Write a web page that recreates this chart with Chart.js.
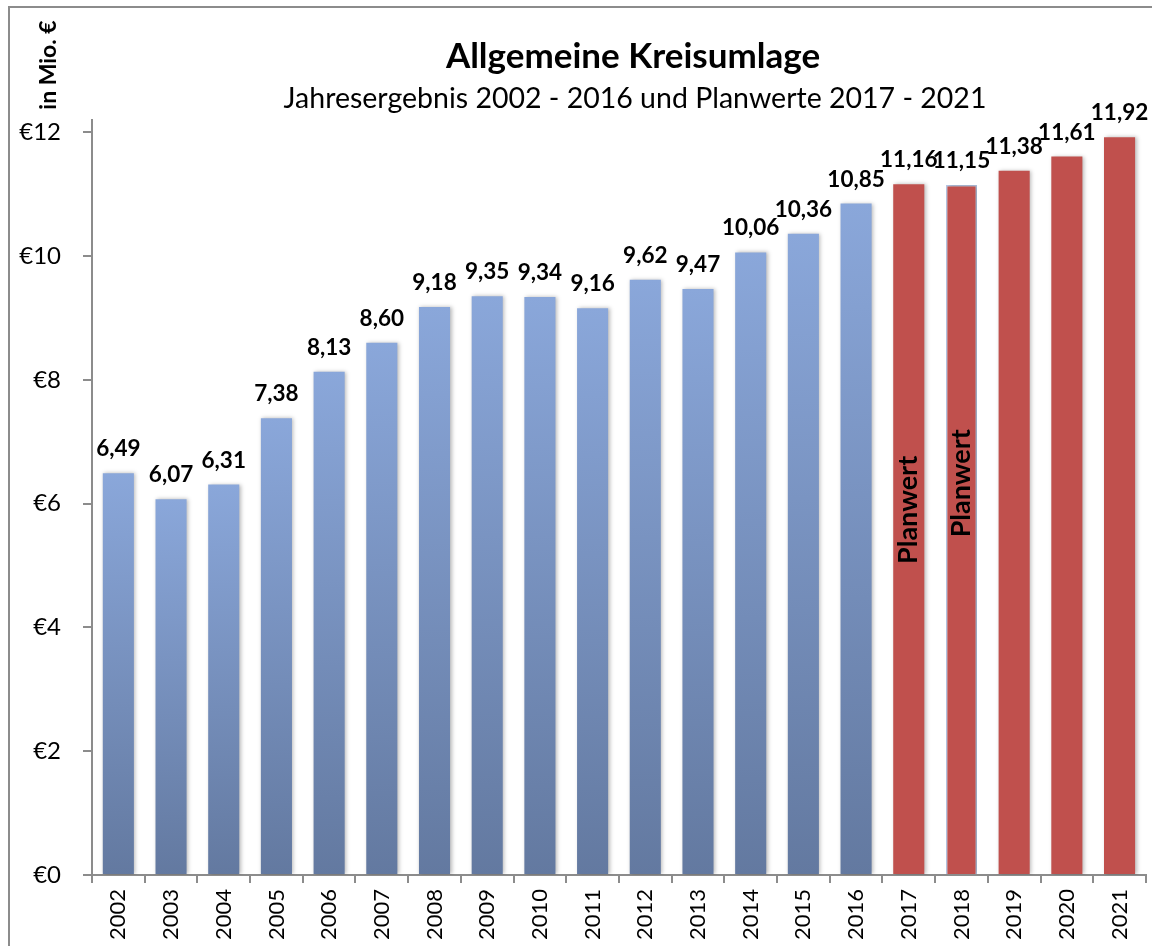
<!DOCTYPE html>
<html>
<head>
<meta charset="utf-8">
<script src="https://cdn.jsdelivr.net/npm/chart.js@4/dist/chart.umd.min.js"></script>
<style>
  html, body { margin: 0; padding: 0; background: #fff; }
  #wrap { position: relative; width: 1152px; height: 946px; }
  #frame { position: absolute; left: 8px; top: 6px; width: 1160px; height: 960px; border: 2px solid #8c8c8c; box-sizing: border-box; }
  canvas { position: absolute; left: 0; top: 0; }
</style>
</head>
<body>
<div id="wrap">
  <div id="frame"></div>
  <canvas id="myChart" width="1152" height="946"></canvas>
</div>
<script>
// years and values (Mio. €)
const actualYears = ['2002', '2003', '2004', '2005', '2006', '2007', '2008', '2009', '2010', '2011', '2012', '2013', '2014', '2015', '2016'];
const actualValues = [6.49, 6.07, 6.31, 7.38, 8.13, 8.60, 9.18, 9.35, 9.34, 9.16, 9.62, 9.47, 10.06, 10.36, 10.85];
const planYears = ['2017', '2018', '2019', '2020', '2021'];
const planValues = [11.16, 11.15, 11.38, 11.61, 11.92];
const yTicks = [0, 2, 4, 6, 8, 10, 12];

const labels = actualYears.concat(planYears);
const values = actualValues.concat(planValues);
const nActual = actualValues.length;

// "Planwert" notes written inside the bars (year, vertical centre in axis units)
const planNotes = [['2017', 5.9], ['2018', 6.33]];

const font = 'Lato, "Liberation Sans", sans-serif';
const blueTop = '#8aa7da';
const blueBottom = '#6379a0';
const red = '#c0504d';

const barColor = (c) => {
    if (c.dataIndex >= nActual) return red;
    const chart = c.chart;
    if (!chart.chartArea || c.parsed == null) return blueTop;
    const y = chart.scales.y;
    const g = chart.ctx.createLinearGradient(0, y.getPixelForValue(c.parsed.y), 0, y.getPixelForValue(0));
    g.addColorStop(0, blueTop);
    g.addColorStop(1, blueBottom);
    return g;
};

// titles, axis title, value labels, Planwert notes
const textPlugin = {
    id: 'texts',
    beforeDatasetsDraw(chart) {
        const ctx = chart.ctx;
        ctx.save();
        ctx.shadowColor = 'rgba(0,0,0,0.28)';
        ctx.shadowBlur = 4;
        ctx.shadowOffsetX = 1.5;
    },
    afterDatasetsDraw(chart) {
        const ctx = chart.ctx;
        ctx.restore();
        const meta = chart.getDatasetMeta(0);
        ctx.save();
        ctx.fillStyle = '#000';
        ctx.textAlign = 'center';
        ctx.textBaseline = 'alphabetic';
        ctx.font = 'bold 22.5px ' + font;
        meta.data.forEach((bar, i) => {
            ctx.fillText(values[i].toFixed(2).replace('.', ','), bar.x, bar.y - 17);
        });
        // Planwert
        ctx.font = 'bold 27px ' + font;
        ctx.textBaseline = 'middle';
        planNotes.forEach(([year, v]) => {
            const bar = meta.data[labels.indexOf(year)];
            ctx.save();
            ctx.translate(bar.x, chart.scales.y.getPixelForValue(v));
            ctx.rotate(-Math.PI / 2);
            ctx.fillText('Planwert', 0, 0);
            ctx.restore();
        });
        ctx.restore();
    },
    afterDraw(chart) {
        const ctx = chart.ctx;
        ctx.save();
        ctx.fillStyle = '#000';
        ctx.textAlign = 'center';
        ctx.textBaseline = 'middle';
        ctx.font = 'bold 35px ' + font;
        ctx.fillText('Allgemeine Kreisumlage', 633, 57);
        ctx.font = '28.5px ' + font;
        ctx.fillText('Jahresergebnis 2002 - 2016 und Planwerte 2017 - 2021', 635, 99);
        // y axis title
        ctx.translate(49, 65);
        ctx.rotate(-Math.PI / 2);
        ctx.font = 'bold 23px ' + font;
        ctx.fillText('in Mio. €', 0, 0);
        ctx.restore();
    }
};

let ctx = document.getElementById('myChart').getContext('2d');
let chartJS = new Chart(ctx, {
    type: 'bar',
    data: {
        labels: labels,
        datasets: [{
            data: values,
            backgroundColor: barColor,
            borderColor: labels.map(y => y === '2018' ? '#b8c8e6' : 'rgba(0,0,0,0)'),
            borderWidth: labels.map(y => y === '2018' ? 1.5 : 0),
            barPercentage: 0.59,
            categoryPercentage: 1
        }]
    },
    options: {
        responsive: false,
        animation: false,
        layout: { padding: { left: 8, top: 120, right: 2, bottom: 0 } },
        plugins: {
            legend: { display: false },
            tooltip: { enabled: false }
        },
        scales: {
            x: {
                grid: { drawOnChartArea: false, color: '#8c8c8c', tickLength: 8, lineWidth: 2 },
                border: { color: '#8c8c8c', width: 2 },
                ticks: {
                    color: '#000',
                    font: { family: font, size: 22 },
                    maxRotation: 90,
                    minRotation: 90,
                    padding: 6,
                    autoSkip: false
                },
                afterFit: (scale) => { scale.height = 71; }
            },
            y: {
                min: 0,
                max: 12.2,
                afterBuildTicks: (scale) => { scale.ticks = yTicks.map(v => ({ value: v })); },
                grid: { drawOnChartArea: false, color: '#8c8c8c', tickLength: 9, lineWidth: 2 },
                border: { color: '#8c8c8c', width: 2 },
                ticks: {
                    color: '#000',
                    font: { family: font, size: 24 },
                    padding: 22,
                    callback: (v) => '€' + v
                },
                afterFit: (scale) => { scale.width = 84; }
            }
        }
    },
    plugins: [textPlugin]
});
</script>
</body>
</html>
